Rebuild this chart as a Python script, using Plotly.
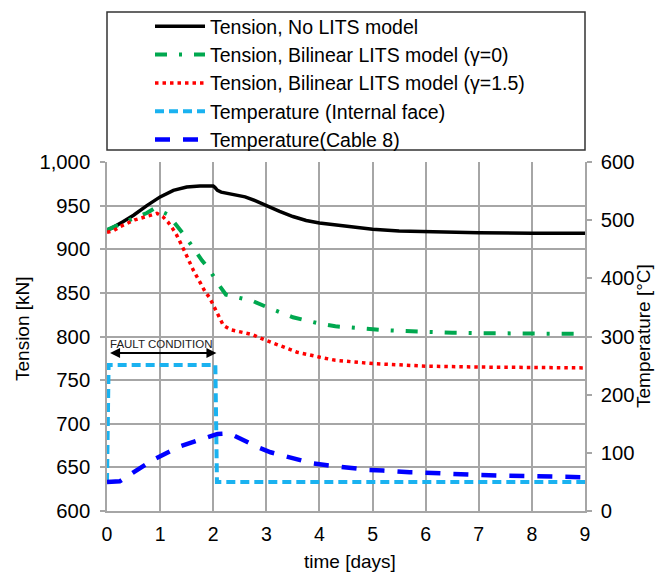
import plotly.graph_objects as go

# ---- data ----
black_t = [0, 0.1, 0.3, 0.5, 0.75, 1.0, 1.25, 1.5, 1.75, 2.0, 2.03, 2.08, 2.15, 2.3, 2.45, 2.6, 2.8, 3.0, 3.25,
           3.5, 3.75, 4.0, 4.5, 5, 5.5, 6, 7, 8, 9]
black_v = [922, 924.5, 931.5, 939, 950, 960, 967.5, 971.3, 972.5, 972.5, 971, 967.5, 965.5, 963.5, 962, 960, 955.5,
           950, 943.5, 937.5, 933, 930, 926.3, 922.8, 921, 920, 918.8, 918.3, 918.2]

green_t = [0, 0.25, 0.5, 0.75, 0.9, 1.14, 1.31, 1.48, 1.63, 1.79, 1.94, 2.07, 2.24, 2.48, 2.75, 3.02, 3.24, 3.5,
           3.78, 4.02, 4.3, 4.6, 4.83, 5.14, 5.5, 6, 6.5, 7, 7.5, 8, 8.5, 9]
green_v = [922, 929, 935.5, 941.5, 947, 940, 928, 914.5, 901, 887, 876, 862, 848, 844.5, 840.5, 833.5, 828, 822,
           818, 814.5, 811.7, 810, 808.7, 807.6, 806.5, 805, 804.3, 803.8, 803.5, 803.2, 803, 803]

red_t = [0, 0.11, 0.25, 0.52, 0.8, 0.94, 1.05, 1.15, 1.24, 1.31, 1.44, 1.56, 1.63, 1.77, 1.85, 1.93, 2.0, 2.08,
         2.19, 2.33, 2.48, 2.61, 2.75, 2.89, 3.04, 3.18, 3.31, 3.46, 3.58, 3.99, 4.3, 5, 6, 7, 8, 9]
red_v = [919.5, 921, 926, 933.6, 938.5, 941.2, 937.4, 931, 923.3, 916.4, 900.4, 884, 875.4, 860, 851, 844.7, 836, 828,
         812.8, 807.8, 806, 804.7, 802, 798, 794.7, 791.6, 787.8, 785, 782, 776.5, 772.7, 769, 766, 765, 764.4, 764]

face_t = [0, 0.03, 2.04, 2.07, 9]
face_temp = [50, 251, 251, 50, 50]

cable_t = [0, 0.24, 0.49, 0.89, 1.36, 1.74, 2.08, 2.3, 2.61, 2.86, 3.08, 3.36, 3.58, 3.86, 4.11, 4.4, 4.68, 4.93,
           5.2, 5.45, 5.7, 5.97, 6.47, 6.97, 7.5, 8.0, 8.5, 9]
cable_temp = [50, 51, 66, 89, 110.5, 123, 132.5, 133.5, 119, 109, 101, 93.5, 88, 82, 79, 76, 72, 70.5,
              69.5, 67.5, 66.5, 66, 63.5, 62, 60.7, 60, 59, 58]

names = ["Tension, No LITS model",
         "Tension, Bilinear LITS model (\u03b3=0)",
         "Tension, Bilinear LITS model (\u03b3=1.5)",
         "Temperature (Internal face)",
         "Temperature(Cable 8)"]

x_ticks = list(range(0, 10))
left_ticks = list(range(600, 1001, 50))
right_ticks = list(range(0, 601, 100))

FONT = "Liberation Sans, Arial, sans-serif"

fig = go.Figure()
fig.add_trace(go.Scatter(x=black_t, y=black_v, mode="lines", name=names[0],
                         line=dict(color="#000000", width=3.5)))
fig.add_trace(go.Scatter(x=green_t, y=green_v, mode="lines", name=names[1],
                         line=dict(color="#00A84F", width=4, dash="12px,12px,3px,12px")))
fig.add_trace(go.Scatter(x=red_t, y=red_v, mode="lines", name=names[2],
                         line=dict(color="#FF0000", width=3.5, dash="3.5px,4px")))
fig.add_trace(go.Scatter(x=face_t, y=face_temp, mode="lines", name=names[3], yaxis="y2",
                         line=dict(color="#1AB2F0", width=4, dash="9px,5px")))
fig.add_trace(go.Scatter(x=cable_t, y=cable_temp, mode="lines", name=names[4], yaxis="y2",
                         line=dict(color="#0000FF", width=4.5, dash="15px,13px")))

# legend frame spanning plot width
fig.add_shape(type="rect", xref="paper", yref="paper", x0=0, x1=1,
              y0=(511 - 150) / 349, y1=(511 - 12) / 349,
              line=dict(color="#333333", width=1.5), fillcolor="white", layer="below")

# fault condition annotation
fig.add_annotation(x=2.06, y=781, ax=0.03, ay=781, xref="x", yref="y", axref="x", ayref="y",
                   text="", showarrow=True, arrowhead=2, arrowside="end+start",
                   arrowsize=1, arrowwidth=2, arrowcolor="#000000")
fig.add_annotation(x=1.01, y=791.5, xref="x", yref="y", text="FAULT CONDITION", showarrow=False,
                   font=dict(family=FONT, size=11.5, color="#222222"))

# axis titles (placed as paper annotations)
TITLE_SIZE = 19
fig.add_annotation(x=(643 - 107) / 478, y=(511 - 336) / 349, xref="paper", yref="paper",
                   text="Temperature [\u00b0C]", showarrow=False, textangle=-90,
                   xanchor="center", yanchor="middle", font=dict(family=FONT, size=TITLE_SIZE, color="#000000"))
fig.add_annotation(x=(22 - 107) / 478, y=(511 - 329) / 349, xref="paper", yref="paper",
                   text="Tension [kN]", showarrow=False, textangle=-90,
                   xanchor="center", yanchor="middle", font=dict(family=FONT, size=TITLE_SIZE, color="#000000"))
fig.add_annotation(x=(350 - 107) / 478, y=(511 - 561) / 349, xref="paper", yref="paper",
                   text="time [days]", showarrow=False,
                   xanchor="center", yanchor="middle", font=dict(family=FONT, size=TITLE_SIZE, color="#000000"))

grid = "#A6A6A6"
fig.update_layout(
    width=667, height=573,
    margin=dict(l=107, r=82, t=162, b=62, autoexpand=False),
    paper_bgcolor="white", plot_bgcolor="white",
    font=dict(family=FONT, size=19, color="#000000"),
    showlegend=True,
    legend=dict(x=(150 - 107) / 478, y=(511 - 7) / 349, xanchor="left", yanchor="top",
                bgcolor="rgba(0,0,0,0)", borderwidth=0, font=dict(size=19.5),
                itemwidth=50, tracegroupgap=0),
    xaxis=dict(range=[0, 9], tickmode="array", tickvals=x_ticks, showgrid=True, gridcolor=grid, gridwidth=1.5,
               showline=True, linecolor=grid, linewidth=1.5, zeroline=False, ticks="", automargin=False,
               ticklabelstandoff=5, tickfont=dict(size=19.5)),
    yaxis=dict(range=[600, 1000], tickmode="array", tickvals=left_ticks, tickformat=",", automargin=False,
               showgrid=True, gridcolor=grid, gridwidth=1.5, showline=True, linecolor=grid, linewidth=1.5,
               zeroline=False, ticks="outside", ticklen=5, tickcolor=grid, tickwidth=1.5,
               ticklabelstandoff=6, tickfont=dict(size=20.3)),
    yaxis2=dict(range=[0, 600], tickmode="array", tickvals=right_ticks, overlaying="y", side="right",
                showgrid=False, showline=True, linecolor=grid, linewidth=1.5, zeroline=False, automargin=False,
                ticks="outside", ticklen=5, tickcolor=grid, tickwidth=1.5,
                ticklabelstandoff=5, tickfont=dict(size=20.3)),
)

fig.write_html("out.html")
